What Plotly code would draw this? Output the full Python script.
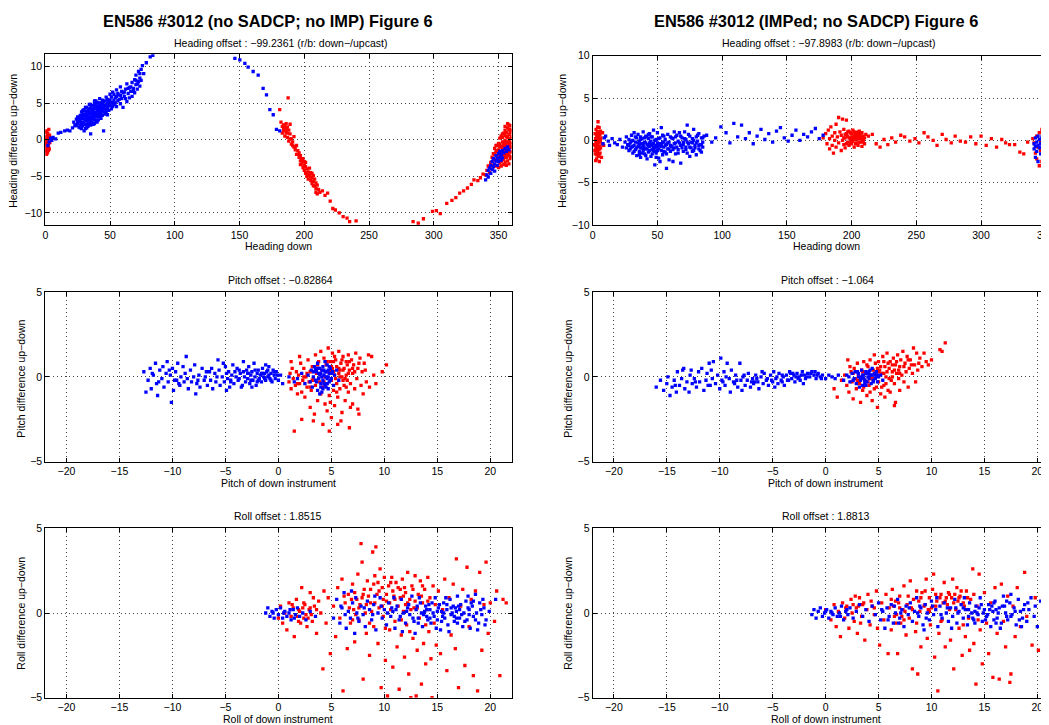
import plotly.graph_objects as go

# The page body has an 8px margin, so the figure is sized and positioned to compensate.
OFF = 8
W, H = 1049 - OFF, 725 - OFF
FONT = "Liberation Sans, Arial, Helvetica, sans-serif"
RED = "#ff0000"
BLUE = "#0000ff"

# ---------------- data ----------------
# Panel 1: heading, no SADCP / no IMP
hdg1_red = [(0.3,-1.6),(0.5,-0.9),(0.6,0.4),(0.8,-0.3),(1.0,1.2),(1.1,-1.2),(1.2,0.1),(1.4,-0.6),(1.5,0.8),(1.7,-1.8),
            (1.8,-0.1),(2.0,0.5),(2.1,-1.0),(2.3,0.2),(2.5,-0.5),(2.7,1.4),(2.9,-0.2),(3.1,-1.3),(3.3,0.6),(0.2,0.0),
            (0.9,-2.0),(1.6,0.3),(2.4,-1.5),(3.5,-0.4),(0.4,-0.6),(1.3,-0.4),(2.2,-0.8),(0.7,1.0),(1.9,0.9),(2.6,-1.1),
            (1.0,-1.5),(3.0,0.3),
            (181,4.1),(187.5,5.7),(182,2.4),(183,1.8),(183,0.9),(184,2.0),(184,1.2),(185,1.6),(185,0.5),(186,2.2),(186,1.0),
            (187,0.3),(187,1.7),(188,1.3),(188,-0.2),(189,0.8),(189,2.1),(190,0.1),(190,-0.6),(191,-0.3),(192,-1.0),(192,0.4),
            (193,-1.4),(194,-0.8),(194,-2.0),(195,-1.5),(196,-2.4),(196,-1.8),(197,-2.9),(197,-2.2),(198,-3.3),(198,-2.6),
            (199,-3.0),(199,-3.8),(200,-3.5),(200,-4.2),(201,-3.1),(201,-4.6),(202,-4.0),(202,-5.0),(203,-4.4),(203,-5.4),
            (204,-4.8),(204,-3.9),(205,-5.6),(205,-4.5),(206,-5.2),(206,-6.0),(207,-5.7),(207,-4.9),(208,-6.3),(208,-5.4),
            (209,-6.7),(209,-5.9),(210,-6.2),(210,-7.4),(211,-6.8),(212,-7.2),(214,-7.0),(216,-7.6),(218,-7.3),(220,-8.4),
            (222,-9.4),(224,-9.6),(227,-10.0),(230,-10.5),(233,-10.7),(235,-11.2),(240,-11.1),
            (184,1.5),(185,2.0),(186,1.4),(187,0.9),(189,0.1),(191,-0.8),(193,-1.0),(195,-2.0),(197,-3.4),(199,-2.6),
            (201,-3.7),(203,-4.9),(205,-5.1),(207,-6.3),(209,-7.2),(206,-4.6),(202,-4.5),(200,-3.0),
            (284,-11.2),(288,-11.4),(292,-10.8),(299,-9.8),(302,-9.7),(305,-10.1),(310,-8.7),(314,-8.3),(317,-7.9),(320,-7.3),
            (323,-7.0),(326,-6.6),(329,-6.1),(331,-5.5),(334,-5.6),(336,-5.2),(338,-4.7),
            (340,-4.8),(341,-4.2),(342,-3.6),(343,-4.5),(344,-3.1),(345,-2.4),(345,-4.0),(346,-3.5),(346,-1.9),(347,-2.8),
            (347,-1.2),(348,-3.6),(348,-0.8),(349,-2.1),(349,-1.5),(350,-0.5),(350,-2.7),(350,-3.8),(351,-1.0),(351,0.2),
            (351,-2.2),(352,-1.7),(352,0.5),(352,-3.0),(353,-0.3),(353,-1.3),(353,-2.5),(354,0.9),(354,-0.8),(354,-2.0),
            (355,1.3),(355,-0.1),(355,-1.5),(355,-3.1),(356,0.4),(356,-0.9),(356,-2.4),(357,1.6),(357,-0.4),(357,-1.9),
            (357,-2.9),(358,0.7),(358,-0.2),(358,-1.2),(358,-2.2),(359,1.9),(359,0.1),(359,-1.0),(359,-2.6),(360,1.2),
            (360,-0.6),(360,-1.7),(354,-3.4),(356,-3.5),(358,-3.3),(353,0.3),(351,-0.6),(349,-2.9),(357,2.2),(359,0.9),
            (346,-2.6),(347,-2.0),(348,-1.6),(348,-2.7),(349,-0.8),(350,-1.4),(351,-1.8),(352,-0.9),(352,-2.3),(353,-1.8),
            (353,0.8),(354,-0.4),(354,-1.3),(355,0.6),(355,-0.7),(355,-2.3),(356,-0.3),(356,-1.6),(356,1.0),(357,0.3),
            (357,-1.3),(358,1.3),(358,-0.7),(358,-1.7),(359,-0.4),(359,-1.6),(359,1.4),(360,0.4),(360,-1.1),(357,-0.9),
            (356,-2.0),(354,-2.7),(352,-3.6),(350,-2.1),(355,1.8),(358,2.0),(360,-2.3),(351,-3.2)]
hdg1_blue = [(2,-0.8),(3,-0.3),(4,0.2),(5,-0.1),(6,0.3),(8,0.1),(10,0.9),(12,1.0),(15,1.2),(17,1.3),(19,1.2),(21,1.6),(23,2.0),
             (22,2.4),(23,1.9),(24,2.8),(25,2.2),(25,3.1),(26,1.7),(26,2.6),(27,3.3),(27,2.0),(28,2.9),(28,1.5),(28,3.8),
             (29,2.4),(29,3.5),(30,1.2),(30,2.8),(30,4.1),(31,3.2),(31,2.1),(31,3.9),(32,2.6),(32,4.4),(32,1.6),(33,3.4),
             (33,2.9),(33,4.0),(34,2.2),(34,3.7),(34,4.8),(35,3.1),(35,4.3),(35,2.5),(35,0.8),(36,3.8),(36,2.9),(36,4.6),
             (37,3.3),(37,4.1),(37,2.1),(38,3.6),(38,4.9),(38,2.7),(39,4.2),(39,3.1),(39,5.3),(40,3.7),(40,4.5),(40,2.4),
             (41,4.0),(41,5.0),(41,3.2),(42,4.4),(42,3.6),(42,5.6),(43,4.1),(43,2.9),(44,4.8),(44,3.9),(45,5.2),(45,4.3),
             (45,1.2),(46,3.5),(46,4.7),(47,5.8),(47,4.1),(48,5.0),(48,3.4),(49,4.6),(50,5.4),(50,6.2),(51,4.2),(52,5.1),
             (52,6.5),(53,4.8),(54,5.7),(55,4.5),(55,6.8),(56,5.3),(57,6.1),(58,4.9),(58,7.2),(59,5.6),(60,6.4),(60,4.4),
             (61,5.9),(62,6.9),(63,5.2),(63,7.6),(64,6.3),(65,5.7),(65,7.1),(66,6.6),(67,7.8),(67,5.9),(68,7.0),(69,8.2),
             (69,6.4),(70,7.5),(70,8.8),(71,6.9),(72,7.9),(72,9.3),(73,8.4),(73,7.3),(74,9.6),(74,8.1),(75,10.1),(76,9.0),
             (78,10.5),(81,11.3),(83,11.5),(32,3.0),(36,3.4),(38,4.3),(40,3.1),(43,4.6),(33,2.3),(37,3.7),(42,4.9),(29,3.0),
             (24,2.0),(25,2.6),(26,3.0),(27,2.5),(27,1.6),(28,2.2),(28,3.3),(29,1.9),(29,4.0),(30,2.3),(30,3.4),(31,2.7),
             (31,4.4),(31,1.5),(32,3.6),(32,2.0),(33,3.8),(33,1.8),(34,3.0),(34,4.2),(34,2.7),(35,3.6),(35,4.8),(35,2.0),
             (36,2.4),(36,4.1),(37,2.8),(37,4.6),(37,3.0),(38,3.2),(38,2.2),(38,5.3),(39,3.7),(39,2.6),(39,4.7),(40,4.1),
             (40,3.4),(40,5.1),(41,3.6),(41,4.5),(41,2.7),(42,3.2),(42,4.0),(43,3.5),(43,5.0),(44,4.3),(44,3.3),(44,5.4),
             (45,3.8),(45,4.7),(46,4.2),(46,5.3),(47,3.7),(47,4.6),(48,4.4),(48,5.5),(49,4.0),(49,5.2),(50,4.7),(51,5.0),
             (51,5.8),(52,4.5),(53,5.4),(53,6.2),(54,5.0),(55,5.9),(56,6.3),(57,5.5),(58,6.0),(59,6.6),(61,6.5),(62,5.6),
             (64,7.0),(66,7.2),(68,6.6),(70,8.1),(71,7.6),(73,9.0),
             (146.4,11.1),(150.2,10.9),(154.1,10.4),(156.6,9.9),(160.5,9.3),(164.4,8.8),(168.2,7.0),(170.8,6.1),(173.4,4.1),
             (176.0,3.4),(178.5,1.4),(181,1.2),
             (340,-5.5),(341,-4.8),(342,-5.1),(342,-4.2),(343,-3.9),(344,-4.6),(344,-3.5),(345,-4.1),(345,-3.0),(346,-3.7),
             (346,-2.6),(347,-3.3),(347,-4.3),(348,-2.9),(348,-2.2),(349,-3.5),(349,-2.6),(350,-1.9),(350,-3.0),(351,-2.4),
             (351,-1.6),(352,-2.8),(352,-2.0),(353,-1.5),(353,-2.5),(354,-1.8),(355,-1.2),(356,-1.6),(357,-1.0),(358,-1.4)]

# Panel 2: heading, IMPed / no SADCP
hdg2_red = [(1.5,-0.5),(1.8,0.8),(2.0,-1.6),(2.2,0.2),(2.4,-1.0),(2.6,1.3),(2.8,-0.3),(3.0,-2.2),(3.1,0.5),(3.3,-0.8),
            (3.5,1.0),(3.6,-1.4),(3.8,0.0),(4.0,-0.6),(4.1,2.2),(4.3,-1.9),(4.5,0.4),(4.6,-1.1),(4.8,-0.2),(5.0,1.5),
            (5.1,-2.5),(5.3,-0.7),(5.5,0.7),(5.7,-1.5),(5.9,-0.1),(6.1,-0.9),(6.4,0.3),(6.8,-2.0),(7.2,-0.4),(7.6,0.9),
            (2.3,-2.4),(3.9,1.6),(4.9,-1.7),(6.0,1.1),(1.7,-1.2),(8.5,-0.6),(2.0,-0.6),(2.9,0.7),(3.4,-1.2),(4.2,-0.3),
            (4.7,0.8),(5.4,-1.0),(3.2,-1.7),(4.4,1.0),(5.8,0.2),(2.5,-0.1),(3.7,0.3),(5.2,0.0),
            (178,0.3),(180,0.8),(181,-0.4),(182,1.2),(183,0.2),(183,-1.0),(184,1.6),(185,0.5),(185,-0.6),(186,-1.5),
            (187,0.9),(187,0.0),(188,1.9),(188,-0.8),(189,0.4),(190,2.7),(190,-0.3),(191,1.0),(192,-1.2),(192,0.6),
            (193,2.5),(193,0.0),(194,-0.5),(194,1.3),(195,0.3),(195,-0.9),(196,2.4),(196,0.8),(197,-0.2),(197,0.5),
            (198,1.1),(198,-0.6),(199,0.2),(199,0.9),(200,-0.4),(200,0.4),(201,1.2),(201,-0.1),(202,0.6),(202,-0.8),
            (203,0.1),(203,0.9),(204,-0.3),(204,0.5),(205,1.0),(205,-0.6),(206,0.2),(206,0.7),(207,-0.2),(207,0.4),
            (208,-0.7),(208,0.9),(209,0.1),(209,0.5),(210,-0.4),(210,0.3),(211,0.7),
            (194,0.3),(195,0.7),(196,-0.4),(197,1.0),(198,0.3),(199,-0.3),(200,0.8),(201,0.2),(202,1.0),(203,-0.4),
            (204,0.2),(205,0.4),(206,-0.2),(207,0.8),(208,0.2),(209,-0.2),(200,0.0),(202,0.3),(204,0.8),(206,1.1),
            (213,0.5),(216,0.7),(219,-0.4),(222,-0.8),(225,0.1),(228,-0.5),(231,0.3),(234,-0.2),(238,0.6),(241,0.4),
            (245,-0.1),(249,0.2),(252,-0.3),(256,0.9),(259,0.4),(263,0.0),(266,-0.6),(270,0.7),(273,0.1),(277,-0.3),
            (280,0.5),(284,-0.1),(288,-0.2),(292,0.4),(296,-0.4),(300,0.5),(304,-0.6),(308,0.2),(312,-0.8),(316,0.1),
            (319,-0.3),(322,-0.5),(326,-0.5),(330,-1.4),(333,-1.6),(336,-0.2),(340,0.2),
            (341,-0.3),(342,-1.5),(343,0.5),(343,-2.2),(344,-0.8),(345,-3.0),(345,0.9),(346,-1.2),(346,-0.2),(347,-2.5),
            (347,1.3),(348,-0.6),(348,-1.8),(349,-3.5),(349,0.2),(350,-1.0),(350,-2.8),(350,-4.6),(351,-0.4),(351,-1.6),
            (351,1.5),(349,-2.1),(350,0.6),(348,-4.0),(352,-2.3),(352,-0.9)]
hdg2_blue = [(8,-0.4),(9,0.3),(10,0.5),(12,-0.1),(13,-0.6),(15,0.2),(17,-0.3),(19,-0.5),(21,0.1),(23,-0.8),
             (25,-0.2),(26,0.4),(26,-0.9),(27,-0.5),(28,0.1),(28,-1.2),(29,-0.3),(30,0.6),(30,-0.8),(31,-1.5),(31,0.0),
             (32,-0.6),(32,0.9),(33,-1.1),(33,-0.2),(34,0.3),(34,-1.8),(35,-0.7),(35,0.7),(36,-1.3),(36,-0.1),(37,0.4),
             (37,-2.0),(38,-0.9),(38,0.2),(39,-0.4),(39,1.0),(40,-1.6),(40,-0.2),(41,0.5),(41,-1.0),(42,-2.2),(42,-0.5),
             (43,0.2),(43,-1.4),(44,0.8),(44,-0.7),(45,-0.1),(45,-1.9),(46,0.4),(46,-1.1),(47,1.2),(47,-0.4),(48,-2.9),
             (48,-0.9),(49,0.1),(49,-1.5),(50,-0.3),(50,0.9),(51,-2.1),(51,-0.6),(52,0.3),(52,-2.5),(53,-1.2),(53,1.5),
             (54,-0.2),(54,-1.7),(55,0.5),(55,-0.8),(56,-1.4),(56,0.1),(57,-3.3),(57,-0.5),(58,0.7),(58,-1.0),(59,-2.3),
             (59,-0.2),(60,0.4),(60,-1.3),(61,-0.7),(62,-2.5),(62,0.2),(63,-0.9),(63,1.0),(64,-0.3),(64,-1.6),(65,0.6),
             (66,-1.1),(66,-0.1),(67,0.9),(68,-2.7),(68,-0.6),(69,0.3),(70,-1.3),(70,-0.2),(71,1.0),(72,-0.8),(72,0.1),
             (73,1.8),(73,-1.5),(74,-0.4),(75,0.5),(75,-1.9),(76,-0.9),(77,0.2),(77,-0.3),(78,1.3),(78,-1.2),(79,-0.6),
             (80,0.4),(80,-1.7),(81,-0.1),(82,0.8),(82,-1.0),(83,-0.5),(84,0.3),(84,-1.4),(85,-0.2),(85,-0.8),(86,0.5),
             (36,-0.5),(40,-0.9),(44,-0.3),(47,-1.2),(50,-0.8),(53,-0.4),(38,-1.5),(42,0.4),(46,-0.6),(49,-2.0),
             (28,-0.6),(29,-1.0),(30,-0.1),(31,-0.7),(32,-1.3),(33,0.4),(34,-0.9),(35,-0.3),(36,-1.7),(37,-0.9),(37,0.1),
             (38,-0.4),(39,-1.2),(39,-0.7),(40,0.3),(41,-0.3),(41,-1.8),(42,-1.0),(43,-0.6),(43,0.7),(44,-1.2),(45,-0.5),
             (45,0.4),(46,-1.6),(47,-0.8),(48,0.0),(48,-1.3),(49,-0.6),(50,-1.2),(51,0.2),(51,-1.0),(52,-0.4),(53,-0.7),
             (54,0.6),(55,-1.3),(55,-0.2),(56,-0.6),(57,-1.6),(58,-0.3),(59,-1.0),(60,-0.6),(61,0.3),(62,-1.1),(63,-0.4),
             (64,0.4),(65,-0.8),(66,-1.5),(67,-0.3),(68,0.5),(69,-0.9),(70,-0.5),(71,0.2),(72,-1.1),(73,-0.2),(74,0.7),
             (75,-0.8),(76,-0.2),(77,-1.3),(78,0.0),(79,-0.9),(80,-0.3),(81,0.6),(82,-0.6),(83,-1.2),(84,-0.5),(85,0.3),
             (88,0.6),(92,-0.2),(95,0.3),(99,1.6),(103,0.9),(106,-0.3),(109,2.0),(112,0.4),(115,1.8),(118,0.2),(121,0.9),
             (124,-0.4),(127,0.5),(130,1.3),(133,0.1),(136,0.8),(139,-0.2),(142,1.1),(145,1.5),(148,0.3),(151,-0.1),
             (154,0.6),(157,1.2),(160,0.0),(163,0.7),(166,0.4),(169,1.0),(172,1.4),(175,0.2),(178,0.6),
             (341,-0.4),(341,-1.0),(342,0.3),(342,-0.7),(343,-1.3),(343,-0.2),(344,0.5),(344,-0.6),(344,-2.5),(345,-0.9),
             (345,0.1),(346,-0.4),(346,-1.6),(347,0.4),(347,-0.8),(348,-0.1),(348,-1.1),(349,0.6),(349,-0.5),(350,-0.9),
             (350,0.0),(351,-0.3),(351,-1.3),(342,-2.0),(352,-0.6),(352,0.2)]

# Panel 3: pitch, no IMP
pit1_red = [(1.0,-0.3),(1.1,0.2),(1.2,-0.7),(1.3,0.5),(1.4,-0.1),(1.5,-3.2),(1.6,-0.5),(1.7,0.3),(1.8,-1.0),(1.9,0.1),
            (2.0,-0.4),(2.1,0.8),(2.2,-2.5),(2.3,-0.2),(2.4,0.5),(2.5,-1.2),(2.6,0.0),(2.7,-0.6),(2.8,1.0),(2.9,-0.3),
            (3.0,-1.8),(3.0,0.3),(3.1,-0.8),(3.2,0.6),(3.3,-0.1),(3.4,-2.2),(3.5,1.3),(3.5,-0.5),(3.6,0.2),(3.7,-1.4),
            (3.8,0.9),(3.9,-0.3),(4.0,1.5),(4.0,-1.0),(4.1,0.4),(4.2,-2.8),(4.2,-0.6),(4.3,1.1),(4.4,-1.6),(4.4,0.0),
            (4.5,0.7),(4.6,-2.0),(4.6,-0.4),(4.7,1.7),(4.7,0.3),(4.8,-3.2),(4.8,-1.1),(4.9,0.9),(5.0,-0.2),(5.0,-2.4),
            (5.1,0.5),(5.1,1.4),(5.2,-0.8),(5.3,0.1),(5.3,-1.7),(5.4,1.0),(5.5,-0.4),(5.5,0.6),(5.6,-1.2),(5.7,0.2),
            (5.7,1.5),(5.8,-0.7),(5.9,0.8),(6.0,-2.1),(6.0,0.0),(6.1,1.2),(6.2,-0.5),(6.2,0.5),(6.3,-1.4),(6.4,0.9),
            (6.5,-0.2),(6.6,1.3),(6.6,-0.9),(6.7,-3.0),(6.7,0.4),(6.8,-0.4),(6.9,1.0),(7.0,-1.6),(7.0,0.2),(7.1,0.7),
            (7.2,-0.7),(7.3,1.4),(7.4,-0.1),(7.5,-1.9),(7.5,0.5),(7.6,-2.2),(7.7,1.1),(7.8,-0.5),(7.9,0.3),(8.0,-1.0),
            (8.1,0.8),(8.3,-0.3),(8.5,1.3),(8.6,-0.6),(8.8,1.2),(9.0,0.1),(9.2,-0.4),(9.8,0.3),(10.2,0.7),(1.2,0.9),
            (2.0,1.2),(3.3,-2.6),(4.9,-1.5),(5.9,-2.6),(6.8,-1.8),(5.6,-2.8),(3.7,0.7),(4.3,-0.3),(6.4,0.1),(5.2,0.3),
            (6.1,-0.2),(5.8,0.4),(6.5,0.7),(4.6,0.9),(5.4,-0.1),
            (4.9,0.3),(5.2,0.9),(5.5,-0.9),(5.8,0.0),(6.1,0.4),(6.4,-0.6),(6.7,0.9),(7.0,0.5),(5.3,1.2),(6.0,1.0),
            (6.3,-0.1),(5.0,0.6),(5.7,0.5),(6.6,0.2),(7.2,0.3),(7.6,0.8),(8.2,0.4),(3.2,-0.2),(2.7,0.2),(2.2,-0.9),
            (1.8,-0.4),(3.0,-0.6),(2.4,0.0)]
pit1_blue = [(-12.7,0.3),(-12.5,-0.9),(-12.3,-0.2),(-12.1,0.5),(-12.0,-0.7),(-11.8,0.1),(-11.6,0.8),(-11.5,-0.4),(-11.4,-1.1),
             (-11.2,0.4),(-11.0,-0.1),(-10.9,0.6),(-10.8,-0.6),(-10.6,0.2),(-10.5,0.9),(-10.4,-0.3),(-10.2,0.1),(-10.1,-1.5),
             (-10.0,0.5),(-9.9,-0.8),(-9.7,0.3),(-9.6,-0.2),(-9.5,0.8),(-9.3,-0.5),(-9.2,0.0),(-9.0,0.6),(-8.9,-0.3),
             (-8.7,1.2),(-8.6,-0.1),(-8.5,-0.7),(-8.3,0.4),(-8.2,-0.3),(-8.0,0.0),(-7.9,0.7),(-7.7,-0.4),(-7.5,0.1),
             (-7.4,-0.6),(-7.2,0.5),(-7.0,-0.2),(-6.9,0.0),(-6.7,-0.5),(-6.5,0.3),(-6.4,-0.2),(-6.2,-0.7),(-6.0,0.2),
             (-5.9,-0.3),(-5.7,1.0),(-5.6,0.4),(-5.5,-0.5),(-5.3,0.0),(-5.1,-0.3),(-5.0,0.6),(-4.8,-0.1),(-4.7,0.3),
             (-4.6,-0.6),(-4.4,0.1),(-4.3,0.7),(-4.2,-0.4),(-4.0,0.0),(-3.9,0.5),(-3.8,-0.2),(-3.6,0.2),(-3.5,-0.6),
             (-3.3,0.9),(-3.2,0.0),(-3.1,-0.3),(-3.0,0.4),(-2.9,-0.1),(-2.8,0.6),(-2.7,-0.4),(-2.6,0.1),(-2.5,0.3),
             (-2.4,-0.2),(-2.3,0.8),(-2.2,0.0),(-2.1,-0.5),(-2.0,0.2),(-1.9,0.4),(-1.8,-0.1),(-1.7,0.1),(-1.6,-0.3),
             (-1.5,0.5),(-1.4,0.0),(-1.3,0.2),(-1.2,-0.2),(-1.1,0.3),(-1.0,0.0),(-0.9,0.6),(-0.8,-0.1),(-0.7,0.2),
             (-0.6,-0.3),(-0.5,0.4),(-0.4,0.1),(-0.3,-0.1),(-0.2,0.3),(0.0,-0.2),(0.2,0.1),(0.4,-0.4),(-6.3,0.5),
             (-5.2,0.8),(-4.9,-0.8),(-3.4,-0.5),(-2.5,-0.6),(-1.2,0.7),(-7.8,-1.0),(-9.8,-0.2),(-11.9,0.2),(-2.0,-0.3),
             (-1.5,0.2),(-2.8,0.2),(-3.7,0.4),(-4.5,-0.2),(-0.9,0.1),
             (-4.9,0.2),(-4.5,-0.3),(-4.1,0.3),(-3.7,-0.1),(-3.3,0.3),(-2.9,0.2),(-2.6,-0.2),(-2.2,0.4),(-1.9,-0.2),
             (-1.6,0.2),(-1.3,-0.1),(-1.0,0.4),(-0.7,-0.2),(-0.4,0.3),(-0.1,0.1),(-5.8,0.0),(-6.8,0.3),(-7.6,-0.2),
             (-8.8,0.2),(-9.4,-0.4),(-10.3,0.4),(-11.3,-0.3),
             (2.8,0.1),(3.0,-0.3),(3.1,0.4),(3.2,-0.6),(3.3,0.0),(3.4,0.6),(3.5,-0.2),(3.6,0.3),(3.7,-0.8),(3.7,0.8),
             (3.8,-0.1),(3.9,0.5),(4.0,-0.4),(4.0,0.2),(4.1,-0.9),(4.2,0.6),(4.2,-0.2),(4.3,0.1),(4.4,0.9),(4.4,-0.5),
             (4.5,0.3),(4.6,-0.1),(4.6,0.7),(4.7,-0.7),(4.8,0.2),(4.8,-0.3),(4.9,0.5),(5.0,-0.1),(5.1,0.3),(5.2,-0.5),
             (5.3,0.1),(5.5,0.4),(5.7,-0.2),(2.5,-0.4),(3.9,-1.0),(4.5,-0.6),(1.8,-0.1),(2.2,0.2),(1.5,-0.3),(1.0,0.0),
             (4.1,0.0),(4.3,0.4),(3.8,0.2),(4.7,0.0),(3.3,0.3),(3.6,-0.3),(3.9,0.1),(4.1,0.4),(4.3,-0.4),(4.5,0.0),
             (4.7,0.4),(4.9,-0.2),(3.5,0.5),(4.0,-0.6),(4.4,0.3),(4.8,0.6),(4.2,-0.7),(3.8,0.5),(4.6,-0.4),(5.0,0.2)]

# Panel 4: pitch, IMPed
pit2_red = [(0.8,-0.7),(1.1,-1.2),(1.5,-0.2),(1.8,0.1),(2.0,-0.5),(2.1,1.0),(2.2,-0.9),(2.4,0.3),(2.5,-0.3),(2.6,-1.3),
            (2.7,0.5),(2.8,-0.1),(2.9,-0.7),(3.0,0.8),(3.1,0.1),(3.2,-0.4),(3.3,-1.5),(3.4,0.4),(3.5,-0.8),(3.6,0.9),
            (3.7,-0.2),(3.8,0.2),(3.9,-1.1),(4.0,0.6),(4.1,-0.5),(4.2,1.0),(4.3,-0.1),(4.4,-1.4),(4.5,0.4),(4.6,-0.7),
            (4.7,0.8),(4.8,0.1),(4.9,-1.8),(5.0,-0.3),(5.0,0.9),(5.1,0.4),(5.2,-1.0),(5.3,0.2),(5.4,1.2),(5.5,-0.5),
            (5.6,0.6),(5.7,0.0),(5.8,1.4),(5.9,-0.8),(6.0,0.5),(6.1,0.9),(6.2,-0.2),(6.3,0.3),(6.4,1.1),(6.5,-1.7),
            (6.5,-0.4),(6.6,0.7),(6.6,-1.5),(6.7,0.2),(6.8,1.3),(6.9,-0.1),(7.0,0.6),(7.1,1.0),(7.2,0.1),(7.3,1.5),
            (7.4,-0.3),(7.5,0.8),(7.6,0.3),(7.7,1.2),(7.8,-0.6),(7.9,0.5),(8.0,1.0),(8.2,0.2),(8.3,1.7),(8.4,0.7),
            (8.6,1.4),(8.7,0.4),(8.9,1.1),(9.1,0.6),(9.3,1.4),(9.5,0.9),(9.7,0.7),(10.0,1.0),(10.8,1.6),(11.0,1.5),
            (11.3,2.0),(3.9,0.7),(4.6,1.3),(5.6,-1.2),(6.1,-0.9),(2.3,0.6),(7.0,-0.8),(8.5,-0.3),(5.3,-0.6),(4.2,-0.9),
            (5.8,0.3),(6.3,0.7),(4.9,0.5),(5.5,0.9),(6.9,0.4),
            (3.0,-0.2),(3.5,0.3),(4.0,-0.3),(4.5,-0.1),(5.0,0.3),(5.5,0.2),(6.0,-0.1),(6.5,0.4),(7.0,0.2),(5.2,0.6),
            (5.9,0.8),(6.7,0.9),(7.4,0.6),(8.1,0.7),(4.8,-0.6),(5.7,-0.4),(3.6,-0.6),(2.6,0.2),(6.3,0.0),(7.8,1.0),(8.8,0.8)]
pit2_blue = [(-16.0,-0.6),(-15.6,-0.2),(-15.3,-0.8),(-15.0,-0.4),(-14.9,0.0),(-14.7,-1.1),(-14.5,-0.6),(-14.3,-0.2),
             (-14.1,-0.9),(-14.0,0.3),(-13.8,-0.5),(-13.6,-0.1),(-13.5,0.4),(-13.3,-0.7),(-13.1,-0.3),(-12.9,-0.9),
             (-12.8,0.1),(-12.6,-0.4),(-12.4,-0.1),(-12.2,-0.6),(-12.0,0.3),(-11.9,-0.3),(-11.7,0.5),(-11.5,-0.8),
             (-11.3,-0.2),(-11.2,0.2),(-11.0,0.8),(-10.9,-0.5),(-10.7,-0.1),(-10.6,0.9),(-10.4,-0.4),(-10.2,0.1),
             (-10.0,-0.7),(-9.9,1.1),(-9.8,-0.2),(-9.6,0.3),(-9.5,-0.5),(-9.3,0.8),(-9.1,-0.1),(-9.0,-0.9),(-8.9,0.4),
             (-8.7,-0.3),(-8.5,0.1),(-8.3,-0.6),(-8.1,0.8),(-8.0,-0.2),(-7.8,0.0),(-7.6,-0.5),(-7.4,-0.2),(-7.3,0.2),
             (-7.1,-0.6),(-6.9,-0.1),(-6.8,-0.4),(-6.6,0.1),(-6.4,-0.3),(-6.3,-0.7),(-6.1,0.0),(-5.9,-0.4),(-5.8,0.2),
             (-5.6,-0.2),(-5.4,-0.5),(-5.2,0.1),(-5.0,-0.3),(-4.9,0.3),(-4.7,-0.1),(-4.5,-0.4),(-4.4,0.2),(-4.2,-0.2),
             (-4.0,0.0),(-3.9,-0.5),(-3.7,0.1),(-3.5,-0.2),(-3.4,0.3),(-3.2,-0.1),(-3.0,0.1),(-2.9,-0.3),(-2.7,0.2),
             (-2.5,0.0),(-2.4,-0.2),(-2.2,0.3),(-2.0,0.1),(-1.9,-0.1),(-1.7,0.2),(-1.5,0.0),(-1.3,0.3),(-1.1,0.1),
             (-0.9,-0.1),(-0.7,0.2),(-0.5,0.0),(-0.3,0.1),(0.0,-0.1),(0.3,0.1),(0.6,0.0),(0.9,-0.1),(1.2,0.1),
             (-12.7,0.4),(-13.4,0.5),(-9.4,0.0),(-7.9,-0.8),(-6.0,0.3),(-4.8,-0.6),(-3.3,0.2),(-2.1,-0.4),(-1.0,0.3),
             (-10.8,0.4),(-5.5,-0.1),(-6.7,-0.3),(-4.1,-0.3),(-2.8,0.0),(-8.4,-0.2),
             (-5.1,-0.2),(-4.6,0.0),(-4.1,0.1),(-3.6,-0.2),(-3.1,0.2),(-2.6,-0.1),(-2.3,0.1),(-1.8,0.0),(-1.4,0.2),
             (-0.8,0.1),(-0.4,-0.1),(-6.5,-0.1),(-7.0,-0.3),(-7.7,0.1),(-8.6,-0.4),(-9.7,-0.3),(-11.1,-0.5),(-12.3,-0.3),
             (-14.2,-0.5),
             (1.7,-0.2),(2.0,0.1),(2.3,-0.3),(2.5,0.2),(2.7,-0.1),(2.9,-0.4),(3.0,0.3),(3.1,0.0),(3.3,-0.2),(3.4,0.4),
             (3.5,-0.5),(3.6,0.1),(3.7,-0.2),(3.8,0.3),(3.9,-0.3),(4.0,0.0),(4.1,-0.1),(4.2,0.4),(4.3,-0.4),(4.4,0.1),
             (4.5,-0.2),(4.6,0.2),(4.7,-0.1),(4.8,0.3),(4.9,-0.3),(5.0,0.0),(5.2,0.1),(5.4,-0.2),(3.2,-0.6),(4.4,0.5),
             (3.8,-0.5),(2.8,0.3),(3.6,-0.1),(4.2,0.1),(4.0,0.2),(3.4,0.0),(3.1,0.2),(3.5,0.1),(3.9,0.2),(4.3,0.1),
             (4.7,0.1),(3.3,-0.1),(3.7,-0.4),(4.1,0.3),(4.5,-0.3),(4.9,0.1),(2.6,-0.2),(2.2,0.0)]

# Panel 5: roll, no IMP
rol1_red = [(0.0,-0.3),(0.2,0.4),(0.4,-0.6),(0.6,0.0),(0.8,-1.0),(1.0,0.6),(1.2,-0.2),(1.4,0.3),(1.5,-1.4),(1.7,0.8),
            (1.9,-0.5),(2.0,0.1),(2.2,1.5),(2.4,-0.3),(2.5,0.5),(2.7,-0.8),(2.9,0.2),(3.0,1.2),(3.2,-0.5),(3.4,0.4),
            (3.6,-1.2),(3.8,0.7),(4.0,0.0),(4.2,-3.3),(4.3,1.3),(4.5,-0.6),(4.7,0.9),(4.9,-2.4),(2.6,-0.1),(3.3,0.9),
            (5.2,0.4),(5.4,-1.4),(5.6,1.5),(5.8,-0.3),(6.0,2.0),(6.1,-4.6),(6.3,0.6),(6.5,-2.1),(6.6,1.1),(6.8,-0.6),
            (7.0,1.7),(7.1,0.2),(7.2,-1.7),(7.4,0.8),(7.5,2.3),(7.6,-0.4),(7.8,4.1),(7.9,3.0),(8.0,-3.9),(8.1,1.4),
            (8.2,0.0),(8.3,-1.2),(8.4,1.9),(8.6,-2.5),(8.7,0.6),(8.9,3.6),(9.0,-0.8),(9.1,2.2),(9.2,3.9),(9.3,1.1),
            (9.4,-1.8),(9.5,0.3),(9.6,2.6),(9.7,-4.4),(9.8,1.5),(9.9,-0.2),
            (10.0,2.1),(10.1,-2.8),(10.2,0.7),(10.3,-4.9),(10.4,1.6),(10.5,-1.0),(10.6,0.2),(10.7,2.1),(10.8,-3.2),
            (10.9,1.0),(11.0,-0.5),(11.1,1.8),(11.2,-2.0),(11.3,0.4),(11.4,-4.5),(11.5,1.4),(11.6,-1.3),(11.7,2.0),
            (11.8,0.1),(11.9,-2.6),(12.0,1.2),(12.1,-0.7),(12.2,2.4),(12.3,-3.6),(12.4,0.8),(12.5,-5.0),(12.6,1.6),
            (12.7,-1.5),(12.8,0.3),(12.9,2.2),(13.0,-4.9),(13.1,-2.2),(13.2,1.1),(13.3,-0.3),(13.4,1.9),(13.5,-4.2),
            (13.6,0.6),(13.7,-1.8),(13.8,1.4),(13.9,-3.0),(14.0,0.2),(14.1,2.1),(14.2,-1.1),(14.3,0.9),(14.4,-2.7),
            (14.5,-5.0),(14.6,1.6),(14.7,-0.6),(14.8,0.5),(14.9,-1.9),
            (15.1,1.3),(15.3,-2.4),(15.5,0.2),(15.7,2.0),(15.9,-3.4),(16.1,0.9),(16.3,-1.3),(16.5,1.7),(16.7,-2.1),
            (16.8,3.2),(17.0,-4.4),(17.2,0.4),(17.4,1.4),(17.6,-3.1),(17.8,2.7),(18.0,-0.8),(18.2,0.8),(18.4,-3.7),
            (18.6,1.3),(18.8,-4.6),(19.0,2.4),(19.2,-2.2),(19.4,0.5),(19.6,3.0),(19.8,-1.2),(20.0,0.6),(20.4,-0.5),
            (20.6,1.3),(20.9,-3.7),(21.2,0.8),(21.5,0.6),(6.2,1.0),(7.7,0.5),(8.5,1.0),(9.5,1.3),(10.5,0.6),(11.5,0.9),
            (12.5,0.2),(13.5,1.0),(10.8,1.3),(8.8,0.1),(7.3,-0.1),(6.7,0.3),(11.9,1.5),(12.9,0.7),(9.9,0.8),(1.8,-0.2),
            (2.3,0.3),(3.1,-0.1),(7.9,0.9),(9.0,1.7),(12.0,0.5),
            (6.9,0.8),(7.2,1.2),(7.6,0.3),(8.0,1.1),(8.3,0.5),(8.7,1.4),(9.1,0.6),(9.4,1.8),(9.8,0.4),(10.2,1.1),
            (10.6,1.8),(11.0,0.8),(11.3,1.5),(11.8,1.0),(12.2,0.6),(12.7,1.4),(13.1,0.3),(13.6,1.6),(14.1,0.7),(7.0,-0.4),
            (8.6,-0.6),(10.1,-0.9),(11.6,-0.4),(12.4,-1.1),(13.9,-0.7),(3.0,0.3),(2.4,0.6),(1.9,0.2),(2.8,-0.3),(3.6,0.2),
            (2.1,-0.6),(1.3,0.5)]
rol1_blue = [(-1.2,0.0),(-1.0,0.3),(-0.8,-0.2),(-0.6,0.1),(-0.4,-0.3),(-0.2,0.2),(0.0,-0.1),(0.2,0.3),(0.4,-0.3),(0.6,0.1),
             (0.8,-0.2),(1.0,0.0),(1.2,-0.4),(1.4,0.2),(1.6,-0.1),(1.8,0.3),(2.0,-0.2),(2.3,0.0),(2.6,-0.4),(3.0,0.1),
             (3.5,-0.2),
             (5.2,-0.3),(5.5,0.8),(5.8,-0.6),(6.0,0.3),(6.2,1.2),(6.4,-0.9),(6.6,0.1),(6.8,-0.3),(7.0,0.6),(7.2,-1.2),
             (7.4,0.0),(7.6,-0.5),(7.8,0.4),(8.0,-0.1),(8.2,-0.8),(8.4,0.7),(8.6,0.2),(8.8,-0.4),(9.0,0.5),(9.2,-1.0),
             (9.4,0.0),(9.6,0.9),(9.8,-0.3),(10.0,0.2),(10.2,-0.7),(10.4,0.6),(10.6,-0.2),(10.8,0.1),(11.0,-0.9),
             (11.2,0.4),(11.4,-0.4),(11.6,0.8),(11.8,0.0),(12.0,-0.6),(12.2,0.3),(12.4,-0.1),(12.6,1.0),(12.8,-0.5),
             (13.0,0.2),(13.2,-0.3),(13.4,0.6),(13.6,-0.8),(13.8,0.1),(14.0,-0.2),(14.2,0.5),(14.4,-0.6),(14.6,0.0),
             (14.8,0.9),(15.0,-0.4),(15.1,0.3),(15.3,-1.0),(15.4,0.1),(15.6,0.6),(15.7,-0.3),(15.9,0.2),(16.0,-0.7),
             (16.2,0.8),(16.3,-0.1),(16.5,0.4),(16.6,-0.5),(16.8,0.1),(16.9,1.0),(17.1,-0.3),(17.2,0.5),(17.4,-0.8),
             (17.5,0.0),(17.7,0.7),(17.8,-0.4),(18.0,0.2),(18.1,-0.9),(18.3,0.4),(18.4,-0.2),(18.6,1.1),(18.7,0.0),
             (18.9,-0.6),(19.0,0.6),(19.2,-0.1),(19.4,0.3),(19.6,-0.4),(19.9,0.1),(20.5,0.8),(14.9,-0.9),(13.3,0.9),
             (11.7,-1.1),(10.9,0.9),(9.1,1.0),(7.3,0.9),(6.9,1.3),(16.1,-1.1),(17.9,1.0),(12.9,-1.2),(14.3,0.2),
             (15.5,-0.2),(16.7,0.3),(17.3,-0.1),(18.2,0.6),(15.8,0.9),(14.1,-0.4),(13.5,0.0),(12.3,0.5),(11.1,0.2),
             (19.3,0.8),(18.8,-1.0),(16.4,0.0),(17.0,0.4),(15.2,0.5),(14.7,-0.2),(13.9,0.4),(16.8,-0.3),
             (12.1,0.1),(12.7,-0.3),(13.1,0.4),(13.7,-0.1),(14.3,-0.3),(14.5,0.6),(15.0,0.1),(15.4,-0.5),(15.9,0.5),
             (16.3,0.3),(16.6,-0.2),(17.1,0.2),(17.6,-0.5),(17.9,0.3),(18.4,0.7),(18.6,-0.4),(19.1,0.2),(19.5,-0.7),
             (10.3,0.0),(9.7,0.4),(8.9,-0.1),(8.1,0.3),(7.5,-0.3),(6.3,-0.1),(5.9,0.4),(11.5,-0.2),(10.7,0.3),(15.6,0.0),
             (16.9,-0.6),(18.0,-0.1),(14.0,0.2),(13.2,-0.6),(0.5,0.0),(1.1,0.2),(1.5,-0.3),(-0.5,0.0)]

# Panel 6: roll, IMPed
rol2_red = [(0.0,0.2),(0.5,-0.4),(0.8,0.5),(1.0,-0.8),(1.2,0.1),(1.4,-1.4),(1.6,0.6),(1.8,-0.3),(2.0,0.4),(2.2,-0.9),
            (2.4,0.8),(2.5,0.0),(2.7,-0.5),(2.9,0.3),(3.0,-1.2),(3.2,0.9),(3.4,-0.2),(3.5,0.5),(3.7,-1.6),(3.9,0.2),
            (4.0,1.1),(4.2,-0.7),(4.4,0.4),(4.6,-0.1),(4.8,1.3),(4.9,-0.9),(2.8,1.0),(3.6,0.6),
            (5.1,-1.9),(5.3,0.6),(5.5,-0.4),(5.7,1.1),(5.9,-2.4),(6.0,0.3),(6.2,-1.0),(6.3,1.4),(6.5,-0.2),(6.6,0.7),
            (6.8,-2.4),(7.0,1.0),(7.1,-0.6),(7.3,0.2),(7.4,1.6),(7.6,-1.3),(7.7,0.5),(7.9,-0.3),(8.0,1.9),(8.2,-3.3),
            (8.3,0.8),(8.5,-1.1),(8.6,1.3),(8.7,-3.6),(8.9,0.1),(9.0,-2.0),(9.1,1.2),(9.3,0.4),(9.5,2.0),(9.6,-1.5),
            (9.8,0.9),(9.9,-0.7),
            (10.0,0.3),(10.1,1.4),(10.2,2.3),(10.3,-2.6),(10.5,0.7),(10.6,-4.6),(10.7,-1.2),(10.9,1.1),(11.0,-0.4),
            (11.2,1.8),(11.3,-2.0),(11.5,0.5),(11.6,1.2),(11.8,-1.6),(11.9,0.9),(12.0,2.0),(12.1,-3.3),(12.3,0.2),
            (12.4,1.5),(12.6,-0.9),(12.7,1.0),(12.9,-2.5),(13.0,0.6),(13.2,-1.4),(13.3,1.3),(13.5,-0.3),(13.6,-2.2),
            (13.7,0.8),(13.9,2.6),(14.0,-1.8),(14.2,-4.2),(14.3,0.4),(14.5,2.3),(14.6,-1.0),(14.8,-3.0),
            (15.0,1.2),(15.2,-0.6),(15.4,-2.4),(15.6,0.6),(15.8,-3.8),(16.0,1.5),(16.2,-1.2),(16.4,-3.9),(16.6,1.7),
            (16.8,-0.5),(17.0,-2.0),(17.2,1.0),(17.4,-4.1),(17.5,-3.6),(17.7,0.4),(17.9,-1.4),(18.1,1.5),(18.4,-0.8),
            (18.8,2.4),(19.0,-0.2),(19.5,-1.9),(19.8,0.9),(20.1,-2.2),(20.5,-2.3),(20.8,1.7),(6.4,0.4),(7.5,0.1),
            (8.8,0.7),(10.8,0.9),(11.4,0.9),(12.2,1.1),(13.1,0.4),(9.4,0.5),(6.7,-0.1),(8.1,0.3),(11.7,0.2),(12.8,1.3),
            (6.9,0.6),(7.2,-0.2),(10.4,0.4),(11.1,0.6),(12.5,0.7),(9.7,0.2),
            (6.2,0.8),(6.6,-0.6),(7.0,0.3),(7.4,-0.4),(7.8,1.0),(8.2,0.2),(8.6,-0.6),(9.0,0.9),(9.4,1.3),(9.8,0.1),
            (10.4,1.1),(10.9,-0.5),(11.3,0.7),(11.7,1.1),(12.1,0.6),(12.6,0.9),(13.0,-0.7),(13.4,0.9),(14.0,1.1),
            (14.4,-0.4),(3.1,0.4),(2.6,0.5),(3.3,-0.6),(4.3,0.7),(1.9,0.3),(4.6,0.3)]
rol2_blue = [(-1.3,-0.1),(-1.1,0.2),(-0.9,-0.3),(-0.7,0.1),(-0.5,0.3),(-0.3,-0.2),(-0.1,0.0),(0.1,0.2),(0.3,-0.3),(0.5,0.1),
             (0.7,-0.1),(0.9,0.3),(1.1,-0.2),(1.3,0.0),(1.5,0.4),(1.7,-0.4),(1.9,0.1),(2.1,-0.1),(2.3,0.3),(2.6,-0.3),
             (2.9,0.1),(3.2,0.5),(3.5,-0.2),(3.8,0.2),(4.1,-0.5),(4.4,0.4),(4.7,-0.1),
             (5.0,0.6),(5.2,-0.4),(5.4,0.1),(5.6,-0.9),(5.8,0.3),(6.0,-0.2),(6.2,0.5),(6.4,-0.6),(6.6,0.0),(6.8,0.8),
             (7.0,-0.3),(7.2,0.2),(7.4,-0.8),(7.6,0.4),(7.8,-0.1),(8.0,0.6),(8.2,-0.5),(8.4,0.1),(8.6,0.9),(8.8,-0.2),
             (9.0,0.3),(9.2,-0.7),(9.4,0.5),(9.6,0.0),(9.8,-0.4),(10.0,0.7),(10.2,-0.1),(10.4,0.2),(10.6,-0.8),(10.8,0.4),
             (11.0,-0.3),(11.2,0.6),(11.4,0.0),(11.6,-0.5),(11.8,0.3),(12.0,-0.2),(12.2,0.8),(12.4,-0.6),(12.6,0.1),
             (12.8,0.5),(13.0,-0.3),(13.2,0.2),(13.4,-0.7),(13.6,0.6),(13.8,0.0),(14.0,-0.4),(14.2,0.4),(14.4,-0.1),
             (14.6,0.9),(14.8,-0.5),(15.0,0.2),(15.2,-0.2),(15.4,0.5),(15.6,-0.8),(15.8,0.1),(16.0,0.7),(16.2,-0.3),
             (16.4,0.3),(16.6,-0.6),(16.8,1.0),(17.0,0.0),(17.2,-0.4),(17.4,0.6),(17.6,-0.1),(17.8,0.3),(18.0,-0.7),
             (18.2,0.8),(18.4,0.1),(18.6,-0.3),(18.8,0.5),(19.0,-0.5),(19.2,0.2),(19.4,0.9),(19.7,-0.2),(20.0,-0.8),
             (20.3,0.7),(20.6,-0.4),(20.9,1.0),(15.9,-0.4),(14.5,0.3),(13.1,0.9),(11.9,-0.9),(10.5,0.9),(9.3,-1.0),
             (17.5,1.1),(16.5,-0.9),(18.5,-0.8),(12.3,0.3),(14.9,0.0),(15.7,0.4),(17.1,-0.2),(8.9,0.4),(6.9,-0.6),
             (19.8,0.4),(16.1,0.2),(15.3,-0.1),(14.1,0.1),(16.9,0.4),(13.5,-0.2),
             (12.5,0.0),(13.0,0.3),(13.5,0.2),(13.9,-0.3),(14.3,0.0),(14.7,0.5),(15.1,-0.4),(15.5,0.2),(15.9,0.6),
             (16.3,0.0),(16.7,0.4),(17.1,0.7),(17.5,-0.2),(17.9,0.1),(18.3,-0.4),(18.7,0.2),(19.1,0.6),(11.5,0.3),
             (10.9,-0.1),(10.1,0.4),(9.5,-0.3),(8.7,0.0),(7.9,0.3),(7.1,0.0),(6.5,0.4),(5.9,-0.4),(5.3,0.2),(2.0,0.2),
             (1.4,-0.2),(0.6,0.0),(0.0,0.1),(16.1,-0.6),(14.1,-0.6)]

subtitles = ["Heading offset : \u221299.2361 (r/b: down\u2212/upcast)",
             "Heading offset : \u221297.8983 (r/b: down\u2212/upcast)",
             "Pitch offset : \u22120.82864", "Pitch offset : \u22121.064",
             "Roll offset : 1.8515", "Roll offset : 1.8813"]
xtitles = ["Heading down", "Heading down", "Pitch of down instrument", "Pitch of down instrument",
           "Roll of down instrument", "Roll of down instrument"]
ytitles = ["Heading difference up\u2212down", "Heading difference up\u2212down",
           "Pitch difference up\u2212down", "Pitch difference up\u2212down",
           "Roll difference up\u2212down", "Roll difference up\u2212down"]
main_titles = ["EN586 #3012 (no SADCP; no IMP) Figure 6", "EN586 #3012 (IMPed; no SADCP) Figure 6"]

heading_ticks = [0, 50, 100, 150, 200, 250, 300, 350]
heading_yticks = [-10, -5, 0, 5, 10]
angle_ticks = [-20, -15, -10, -5, 0, 5, 10, 15, 20]
diff_ticks = [-5, 0, 5]

series = [(hdg1_red, hdg1_blue), (hdg2_red, hdg2_blue), (pit1_red, pit1_blue),
          (pit2_red, pit2_blue), (rol1_red, rol1_blue), (rol2_red, rol2_blue)]

# ---------------- layout geometry (window pixels) ----------------
def PX(x):
    return (x - OFF) / W

def PY(y):
    return 1 - (y - OFF) / H

LEFT = (45.3, 511.5)
RIGHT = (592.7, 1049)
MID = (292.0, 461.7)
BOT = (528.3, 697.7)

panels = [
    dict(xd=LEFT, yd=(54.3, 225.0), xr=[0, 360], yr=[-11.65, 11.65], xt=heading_ticks, yt=heading_yticks, right=False),
    dict(xd=RIGHT, yd=(55.7, 225.0), xr=[0, 352.5], yr=[-10, 10], xt=heading_ticks, yt=heading_yticks, right=True),
    dict(xd=LEFT, yd=MID, xr=[-22, 22], yr=[-5, 5], xt=angle_ticks, yt=diff_ticks, right=False),
    dict(xd=RIGHT, yd=MID, xr=[-22, 21.1], yr=[-5, 5], xt=angle_ticks, yt=diff_ticks, right=True),
    dict(xd=LEFT, yd=BOT, xr=[-22, 22], yr=[-5, 5], xt=angle_ticks, yt=diff_ticks, right=False),
    dict(xd=RIGHT, yd=BOT, xr=[-22, 21.1], yr=[-5, 5], xt=angle_ticks, yt=diff_ticks, right=True),
]

fig = go.Figure()
layout = dict(width=W, height=H, margin=dict(l=0, r=0, t=0, b=0), showlegend=False,
              paper_bgcolor="white", plot_bgcolor="white",
              font=dict(family=FONT, size=10.5, color="black"))

for i, (p, (red, blue)) in enumerate(zip(panels, series)):
    n = i + 1
    xa = "x" if n == 1 else f"x{n}"
    ya = "y" if n == 1 else f"y{n}"
    for pts, col in ((red, RED), (blue, BLUE)):
        xs = [a for a, b in pts]
        ys = [b for a, b in pts]
        fig.add_trace(go.Scatter(x=xs, y=ys, mode="markers", xaxis=xa, yaxis=ya,
                                 marker=dict(symbol="square", size=3.3, color=col, line=dict(width=0)),
                                 hoverinfo="skip"))
    common = dict(showline=True, linecolor="black", linewidth=1, ticks="inside", ticklen=4,
                  tickcolor="black", tickwidth=1, showgrid=True, gridcolor="#444444", gridwidth=1,
                  griddash="1px,3px", zeroline=False, automargin=False, ticklabeloverflow="allow",
                  tickfont=dict(family=FONT, size=10.5, color="black"))
    sfx = "" if n == 1 else str(n)
    layout[f"xaxis{sfx}"] = dict(common, domain=[PX(p["xd"][0]), PX(p["xd"][1])],
                                 range=p["xr"], tickvals=p["xt"], anchor=ya, mirror="allticks")
    layout[f"yaxis{sfx}"] = dict(common, domain=[PY(p["yd"][1]), PY(p["yd"][0])],
                                 range=p["yr"], tickvals=p["yt"], anchor=xa,
                                 mirror=False if p["right"] else "allticks")

ann = []
def text(t, x, y, size=10.5, angle=0, bold=False):
    ann.append(dict(text=f"<b>{t}</b>" if bold else t, x=PX(x), y=PY(y), xref="paper", yref="paper",
                    xanchor="center", yanchor="middle", showarrow=False, textangle=angle,
                    font=dict(family=FONT, size=size, color="black")))

text(main_titles[0], 268.0, 20.7, size=16.4, bold=True)
text(main_titles[1], 815.7, 20.7, size=16.4, bold=True)

sub_pos = [(280.5, 43.3), (828, 43.3), (280, 280), (827, 280), (278, 516), (825.7, 516)]
xt_pos = [(278.7, 246), (826, 246), (278, 482.7), (825.7, 482.7), (278, 719), (825.8, 719)]
yt_pos = [(13.3, 140.5), (562.3, 140.5), (20.7, 379), (567.7, 379), (20.7, 613), (567.7, 613)]
for i in range(6):
    text(subtitles[i], *sub_pos[i])
    text(xtitles[i], *xt_pos[i])
    text(ytitles[i], *yt_pos[i], angle=-90)

layout["annotations"] = ann
fig.update_layout(**layout)
fig.write_html("out.html")
